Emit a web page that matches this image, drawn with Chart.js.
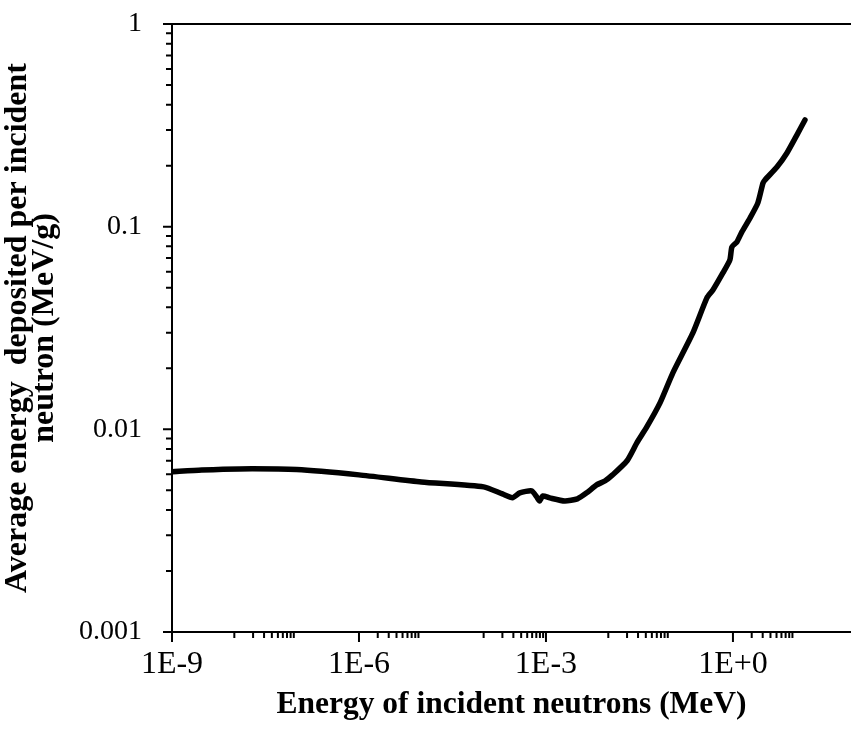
<!DOCTYPE html>
<html><head><meta charset="utf-8">
<script src="https://cdn.jsdelivr.net/npm/chart.js@4"></script>
<style>html,body{margin:0;padding:0;background:#fff}#wrap{width:851px;height:731px;position:relative}</style>
</head><body><div id="wrap"><canvas id="c"></canvas></div>
<script>
const energyMeV = [1e-9, 3e-9, 1.2e-8, 1e-7, 1e-6, 1e-5, 1e-4, 2e-4, 2.9e-4, 3.8e-4, 5.9e-4, 7.1e-4, 7.9e-4, 8.9e-4, 1.15e-3, 2.0e-3, 3.2e-3, 4.5e-3, 6.5e-3, 8.8e-3, 1.17e-2, 2.0e-2, 2.87e-2, 4.17e-2, 6.76e-2, 0.1087, 0.2275, 0.382, 0.477, 0.689, 0.893, 0.962, 1.157, 1.392, 1.87, 2.51, 3.03, 3.26, 5.08, 7.35, 10.6, 14.3];
const energyDeposited = [0.00617, 0.0063, 0.00638, 0.00633, 0.00596, 0.0055, 0.0052, 0.0048, 0.0046, 0.00486, 0.00497, 0.00464, 0.00443, 0.00469, 0.00459, 0.00443, 0.00454, 0.00486, 0.00532, 0.00556, 0.00596, 0.0070, 0.00857, 0.0103, 0.0135, 0.019, 0.0299, 0.0445, 0.0487, 0.0591, 0.0686, 0.0794, 0.0841, 0.0942, 0.110, 0.131, 0.164, 0.170, 0.197, 0.231, 0.283, 0.336];
const xTickValues = [1e-9, 1e-6, 1e-3, 1];
const xTickLabels = ['1E-9', '1E-6', '1E-3', '1E+0'];
const yTickValues = [0.001, 0.01, 0.1, 1];
const yTickLabels = ['0.001', '0.01', '0.1', '1'];
const xMinorTicks = [1e-8,2e-8,3e-8,4e-8,5e-8,6e-8,7e-8,8e-8,9e-8, 2e-6,3e-6,4e-6,5e-6,6e-6,7e-6,8e-6,9e-6, 1e-4,2e-4,3e-4,4e-4,5e-4,6e-4,7e-4,8e-4,9e-4, 1e-2,2e-2,3e-2,4e-2,5e-2,6e-2,7e-2,8e-2,9e-2, 2,3,4,5,6,7,8,9];
const yMinorTicks = [0.002,0.003,0.004,0.005,0.006,0.007,0.008,0.009, 0.02,0.03,0.04,0.05,0.06,0.07,0.08,0.09, 0.2,0.3,0.4,0.5,0.6,0.7,0.8,0.9];
const xTitle = 'Energy of incident neutrons (MeV)';
const yTitle = ['Average energy  deposited per incident', 'neutron (MeV/g)'];

const tickPlugin = {
  id: 'tickMarks',
  afterDraw(chart) {
    const {ctx, chartArea: a, scales: {x, y}} = chart;
    ctx.save();
    ctx.strokeStyle = '#000';
    ctx.lineWidth = 2;
    ctx.beginPath();
    ctx.moveTo(a.left - 1, a.top); ctx.lineTo(a.right, a.top);
    xTickValues.forEach(v => { const p = x.getPixelForValue(v); ctx.moveTo(p, a.bottom); ctx.lineTo(p, a.bottom + 10); });
    xMinorTicks.forEach(v => { const p = x.getPixelForValue(v); ctx.moveTo(p, a.bottom); ctx.lineTo(p, a.bottom + 6); });
    yTickValues.forEach(v => { const p = y.getPixelForValue(v); ctx.moveTo(a.left, p); ctx.lineTo(a.left - 9, p); });
    yMinorTicks.forEach(v => { const p = y.getPixelForValue(v); ctx.moveTo(a.left, p); ctx.lineTo(a.left - 6, p); });
    ctx.stroke();
    ctx.restore();
  }
};

new Chart(document.getElementById('c'), {
  type: 'line',
  data: {
    datasets: [{
      data: energyMeV.map((e, i) => ({x: e, y: energyDeposited[i]})),
      borderColor: '#000',
      borderWidth: 5.5,
      borderCapStyle: 'round',
      borderJoinStyle: 'round',
      pointRadius: 0,
      tension: 0.2,
      fill: false
    }]
  },
  options: {
    responsive: true,
    maintainAspectRatio: false,
    animation: false,
    layout: {padding: {top: 24, right: 0, left: 0, bottom: 0}},
    plugins: {legend: {display: false}, tooltip: {enabled: false}},
    scales: {
      x: {
        type: 'logarithmic',
        min: 1e-9,
        max: Math.pow(10, 1.894),
        afterBuildTicks: s => { s.ticks = xTickValues.map(v => ({value: v})); },
        afterFit: s => { s.height = 99; s.paddingRight = 0; },
        grid: {display: true, drawOnChartArea: false, drawTicks: false},
        border: {display: true, color: '#000', width: 2},
        ticks: {
          autoSkip: false, maxRotation: 0, padding: 13, color: '#000',
          font: {family: 'Liberation Serif', size: 32, lineHeight: 1.2},
          callback: (v, i) => xTickLabels[i]
        },
        title: {display: true, text: xTitle, color: '#000', padding: {top: 0, bottom: 7},
          font: {family: 'Liberation Serif', size: 31.5, weight: 'bold', lineHeight: 1.2}}
      },
      y: {
        type: 'logarithmic',
        min: 0.001,
        max: 1,
        afterBuildTicks: s => { s.ticks = yTickValues.map(v => ({value: v})); },
        afterFit: s => { s.width = 172; s.paddingTop = 0; s.paddingBottom = 0; },
        grid: {display: true, drawOnChartArea: false, drawTicks: false},
        border: {display: true, color: '#000', width: 2},
        ticks: {
          autoSkip: false, padding: 30, color: '#000',
          font: {family: 'Liberation Serif', size: 28, lineHeight: 1.2},
          callback: (v, i) => yTickLabels[i]
        },
        title: {display: true, text: yTitle, color: '#000', padding: {top: 4, bottom: 0},
          font: {family: 'Liberation Serif', size: 32, weight: 'bold', lineHeight: 0.85}}
      }
    }
  },
  plugins: [tickPlugin]
});
</script>
</body></html>
